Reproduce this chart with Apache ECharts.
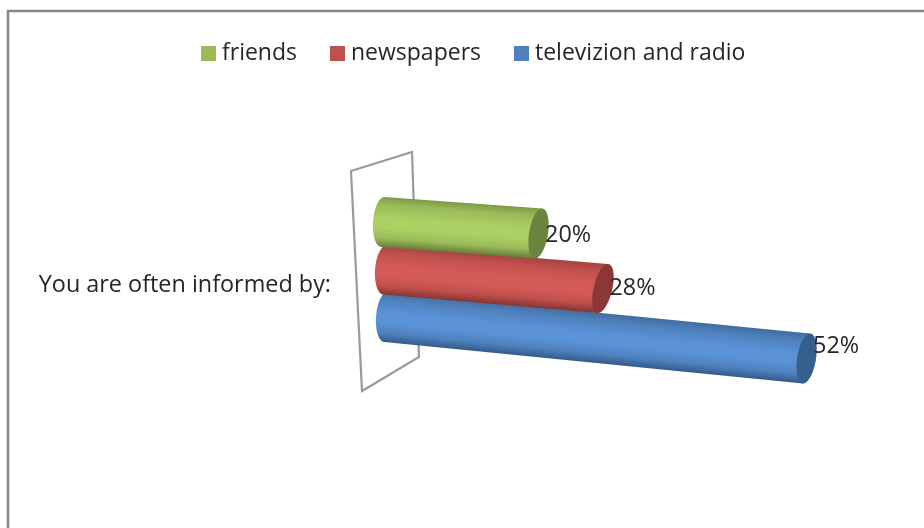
<!DOCTYPE html>
<html>
<head>
<meta charset="utf-8">
<style>
  html, body { margin: 0; padding: 0; background: #fff; }
  #chart { width: 924px; height: 528px; }
</style>
<script src="https://cdn.jsdelivr.net/npm/echarts@6/dist/echarts.min.js"></script>
</head>
<body>
<div id="chart"></div>
<script>
// Survey answers, in percent
const categories = ['You are often informed by:'];
const seriesNames = ['friends', 'newspapers', 'televizion and radio'];
const friends = [20];
const newspapers = [28];
const televizionAndRadio = [52];

const FONT = '"Open Sans", sans-serif';
const TEXT = '#262626';
const FONT_SIZE = 23.4;

// Oblique view of each cylinder: where it leaves the wall relative to the
// axis origin, how much the run is stretched by perspective, and its fall.
const VIEW = [
  { dx: -1, dy: -63, stretch: 0.972, slope: 0.074, tiltStart: 1.5, tiltEnd: 3.5, radius: 25, labelDy: 2 },
  { dx:  1, dy: -15, stretch: 0.973, slope: 0.085, tiltStart: 1.5, tiltEnd: 5,   radius: 24.5, labelDy: 0 },
  { dx:  2, dy:  32, stretch: 1.011, slope: 0.0987, tiltStart: 1.5, tiltEnd: 3.5, radius: 25, labelDy: -12 }
];
const CAP_RX = 9.5;
const SHADES = [
  { base: '#9bbb59', edge: '#7d9a45', light: '#abd064', deep: '#64803a', cap: '#6b843e' },
  { base: '#c0504d', edge: '#a54340', light: '#d45a57', deep: '#863634', cap: '#8a3735' },
  { base: '#4f81bd', edge: '#416d9f', light: '#5a92d6', deep: '#335a88', cap: '#365f8e' }
];

// Points of half an ellipse, from the top of its tilted axis round to the bottom.
function arc(cx, cy, ax, ay, rx, side) {
  const pts = [];
  for (let i = 0; i <= 24; i++) {
    const t = Math.PI * i / 24;
    const c = Math.cos(t), s = Math.sin(t) * side;
    pts.push([cx + ax * c + rx * s, cy + ay * c]);
  }
  return pts;
}

function cylinder(index) {
  return function (params, api) {
    const view = VIEW[index], shade = SHADES[index];
    const value = api.value(0);
    const origin = api.coord([0, api.value(1)]);
    const tip = api.coord([value, api.value(1)]);
    const run = (tip[0] - origin[0]) * view.stretch;
    const sx = origin[0] + view.dx, sy = origin[1] + view.dy;
    const ex = sx + run, ey = sy + run * view.slope;
    const r = view.radius;

    // Body: rounded towards the wall, cut straight under the cap at the near end.
    const body = arc(sx, sy, view.tiltStart, -r, CAP_RX + 0.5, -1)
      .concat([[ex - view.tiltEnd, ey + r], [ex + view.tiltEnd, ey - r]]);
    const cap = arc(ex, ey, view.tiltEnd, -r, CAP_RX, 1)
      .concat(arc(ex, ey, view.tiltEnd, -r, CAP_RX, -1).reverse());

    // Shading runs across the tube, square to its sloping axis.
    const gradient = new echarts.graphic.LinearGradient(
      sx + r * view.slope, sy - r, sx - r * view.slope, sy + r,
      [
        { offset: 0, color: shade.edge },
        { offset: 0.16, color: shade.base },
        { offset: 0.42, color: shade.light },
        { offset: 0.62, color: shade.light },
        { offset: 0.82, color: shade.base },
        { offset: 1, color: shade.deep }
      ], true);

    return {
      type: 'group',
      children: [
        { type: 'polygon', shape: { points: body }, style: { fill: gradient } },
        { type: 'polygon', shape: { points: cap }, style: { fill: shade.cap } },
        {
          type: 'text',
          x: ex + CAP_RX - 3,
          y: ey + view.labelDy,
          style: {
            text: value + '%',
            fill: TEXT,
            font: FONT_SIZE + 'px ' + FONT,
            textAlign: 'left',
            textVerticalAlign: 'middle'
          }
        }
      ]
    };
  };
}

const rows = [friends, newspapers, televizionAndRadio];
const chart = echarts.init(document.getElementById('chart'), null, { renderer: 'canvas' });

chart.setOption({
  animation: false,
  backgroundColor: '#ffffff',
  textStyle: { fontFamily: FONT },
  legend: {
    left: 196,
    top: 37,
    itemWidth: 15,
    itemHeight: 15,
    itemGap: 33,
    icon: 'rect',
    data: seriesNames,
    textStyle: { fontSize: 23, color: TEXT, fontFamily: FONT, padding: [0, 0, 0, 1] }
  },
  grid: { left: 384, top: 185, width: 480, height: 200 },
  xAxis: { type: 'value', min: 0, max: 60, show: false },
  yAxis: {
    type: 'category',
    data: categories,
    axisLine: { show: false },
    axisTick: { show: false },
    splitLine: { show: false },
    axisLabel: { margin: 53, fontSize: FONT_SIZE, color: TEXT, fontFamily: FONT }
  },
  graphic: [
    // Chart frame, open towards the right and the bottom of the page
    { type: 'rect', z: 0, shape: { x: 8, y: 11, width: 940, height: 540 },
      style: { fill: 'none', stroke: '#868686', lineWidth: 2.5 } },
    // Back wall of the 3D plot
    { type: 'polygon', z: 0, shape: { points: [[351, 171], [412, 152], [419, 357], [362, 391]] },
      style: { fill: 'none', stroke: '#9a9a9a', lineWidth: 2.2 } }
  ],
  series: seriesNames.map(function (name, i) {
    return {
      name: name,
      type: 'custom',
      clip: false,
      z: 10 - i,
      coordinateSystem: 'cartesian2d',
      itemStyle: { color: SHADES[i].base },
      encode: { x: 0, y: 1 },
      data: rows[i].map(function (v, c) { return [v, c]; }),
      renderItem: cylinder(i)
    };
  })
});
</script>
</body>
</html>
